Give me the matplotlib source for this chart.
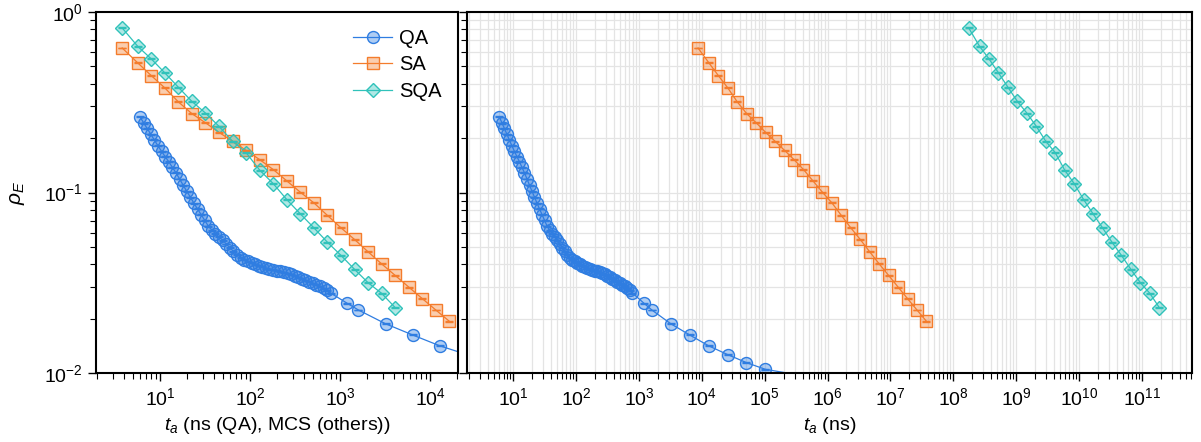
import matplotlib
matplotlib.use("Agg")
import matplotlib.pyplot as plt
import numpy as np
from matplotlib.colors import to_rgba
from matplotlib.ticker import LogLocator, NullFormatter, FixedLocator

plt.rcParams['font.family'] = ['Liberation Sans', 'DejaVu Sans']
plt.rcParams['mathtext.fontset'] = 'custom'
plt.rcParams['mathtext.rm'] = 'Liberation Sans'
plt.rcParams['mathtext.it'] = 'Liberation Sans:italic'
plt.rcParams['mathtext.bf'] = 'Liberation Sans:bold'

# ---- data -------------------------------------------------------------
# quantum annealing: residual energy density vs anneal time (ns)
qa_t = [6.0, 6.6, 7.2, 7.9, 8.6, 9.5, 10.4, 11.4, 12.5, 13.7, 15.0, 16.5,
        18.1, 19.8, 21.7, 23.8, 26.1, 28.6, 31.4, 34.4, 37.7, 41.3, 45.3,
        49.7, 54.5, 59.8, 65.5, 71.9, 78.8, 86.4, 94.7, 104, 114, 125, 137,
        150, 164, 180, 198, 217, 238, 261, 286, 313, 344, 377, 413, 453, 497,
        545, 597, 655, 718, 787, 1200, 1600, 3200, 6400, 12800, 25600, 51200,
        102400, 409600]
qa_rho = [0.262, 0.242, 0.226, 0.210, 0.196, 0.181, 0.169, 0.158, 0.148,
          0.138, 0.1286, 0.1188, 0.1096, 0.1016, 0.0944, 0.0873, 0.0811,
          0.0755, 0.0701, 0.0652, 0.0619, 0.0592, 0.0568, 0.0545, 0.0519,
          0.0494, 0.0473, 0.0453, 0.0437, 0.0425, 0.0416, 0.0408, 0.0402,
          0.0394, 0.0388, 0.0382, 0.0377, 0.0373, 0.0370, 0.0366, 0.0362,
          0.0358, 0.0352, 0.0346, 0.0340, 0.0333, 0.0327, 0.0321, 0.0315,
          0.0309, 0.0303, 0.0296, 0.0288, 0.0278, 0.0244, 0.0224, 0.0188,
          0.0163, 0.0142, 0.0127, 0.01146, 0.01052, 0.0097]
qa_marked = 62  # points drawn with a marker (the last one only extends the line)

# simulated annealing: vs Monte Carlo sweeps
sa_mcs = [3.8, 5.66, 8, 11.3, 16, 22.6, 32, 45.3, 64, 90.5, 128, 181, 256,
          362, 512, 724, 1024, 1448, 2048, 2896, 4096, 5793, 8192, 11585, 16384]
sa_rho = [0.630, 0.521, 0.443, 0.379, 0.317, 0.273, 0.243, 0.215, 0.192,
          0.171, 0.152, 0.134, 0.116, 0.1004, 0.0877, 0.0747, 0.0638, 0.0550,
          0.0470, 0.0403, 0.0348, 0.0300, 0.0259, 0.0224, 0.0194]

# simulated quantum annealing: vs Monte Carlo sweeps
sqa_mcs = [3.8, 5.66, 8, 11.3, 16, 22.6, 32, 45.3, 64, 90.5, 128, 181, 256,
           362, 512, 724, 1024, 1448, 2048, 2896, 4096]
sqa_rho = [0.813, 0.643, 0.548, 0.459, 0.382, 0.319, 0.275, 0.232, 0.192,
           0.166, 0.133, 0.112, 0.0914, 0.0762, 0.0638, 0.0531, 0.0449,
           0.0376, 0.0317, 0.0277, 0.0231]

# wall-clock cost of one sweep (ns)
sa_ns_per_mcs = 2290
sqa_ns_per_mcs = 4.65e7

# relative statistical error of each estimate
rel_err = 0.006

C_QA = '#2f7de1'
C_SA = '#f47c2c'
C_SQA = '#30c2ba'

# ---- figure -----------------------------------------------------------
fig = plt.figure(figsize=(12.01, 4.42), dpi=100)
ax1 = fig.add_axes([0.0802, 0.1554, 0.3014, 0.8181])
ax2 = fig.add_axes([0.3886, 0.1554, 0.6042, 0.8181])


def draw(ax, x, y, color, marker, ms, label, nmark=None):
    x = np.asarray(x, float)
    y = np.asarray(y, float)
    n = len(x) if nmark is None else nmark
    ax.plot(x, y, '-', color=color, lw=0.9, marker=marker, ms=ms,
            mfc=to_rgba(color, 0.38), mec=color, mew=1.0,
            markevery=slice(0, n), label=label, zorder=2)
    ax.errorbar(x[:n], y[:n], yerr=y[:n] * rel_err, fmt='none', ecolor=color,
                elinewidth=0.8, capsize=2.6, capthick=1.0, zorder=3)


xlims = {ax1: (1.96, 2.06e4), ax2: (1.81, 6.4e11)}

for ax, fsa, fsqa in ((ax1, 1.0, 1.0), (ax2, sa_ns_per_mcs, sqa_ns_per_mcs)):
    draw(ax, qa_t, qa_rho, C_QA, 'o', 8.6, 'QA', qa_marked)
    draw(ax, np.asarray(sa_mcs) * fsa, sa_rho, C_SA, 's', 8.2, 'SA')
    draw(ax, np.asarray(sqa_mcs) * fsqa, sqa_rho, C_SQA, 'D', 7.6, 'SQA')
    ax.set_xscale('log')
    ax.set_yscale('log')
    lo, hi = xlims[ax]
    ax.set_xlim(lo, hi)
    ax.set_ylim(1e-2, 1.0)
    # major ticks only at the decades inside the visible range
    decades = 10.0 ** np.arange(np.ceil(np.log10(lo)), np.floor(np.log10(hi)) + 1)
    ax.xaxis.set_major_locator(FixedLocator(decades))
    ax.yaxis.set_major_locator(LogLocator(base=10, numticks=10))
    ax.yaxis.set_minor_locator(LogLocator(base=10, subs=np.arange(2, 10), numticks=10))
    ax.xaxis.set_minor_locator(LogLocator(base=10, subs=np.arange(2, 10), numticks=200))
    ax.xaxis.set_minor_formatter(NullFormatter())
    ax.yaxis.set_minor_formatter(NullFormatter())
    ax.tick_params(which='both', direction='out', top=False, right=False,
                   labelsize=14, color='black')
    ax.tick_params(which='major', length=6, width=1.0, pad=4)
    ax.tick_params(which='minor', length=4, width=0.8)
    for s in ax.spines.values():
        s.set_linewidth(1.5)

ax2.tick_params(axis='y', which='both', labelleft=False)
ax2.grid(True, which='both', color='#e4e4e4', lw=0.9)
ax2.set_axisbelow(True)

ax1.set_ylabel(r'$\rho_E$', fontsize=15, labelpad=12)
ax1.set_xlabel(r'$t_a$ (ns (QA), MCS (others))', fontsize=14, labelpad=4)
ax2.set_xlabel(r'$t_a$ (ns)', fontsize=14, labelpad=4)

ax1.legend(loc='upper right', frameon=False, fontsize=14.5, handlelength=1.9,
           handletextpad=0.35, labelspacing=0.38, borderaxespad=0.45)

fig.savefig('out.png', dpi=100)
